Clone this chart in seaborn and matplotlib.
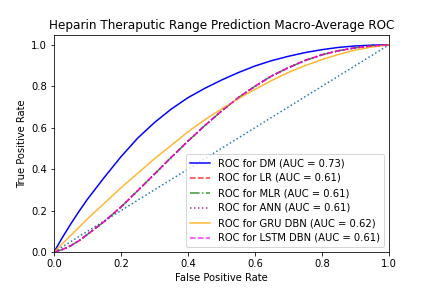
import matplotlib
matplotlib.use("Agg")
import matplotlib.pyplot as plt
import seaborn as sns
import pandas as pd

fpr = [0.0, 0.025, 0.05, 0.075, 0.1, 0.15, 0.2, 0.25, 0.3, 0.35, 0.4, 0.45, 0.5,
       0.55, 0.6, 0.65, 0.7, 0.75, 0.8, 0.85, 0.9, 0.95, 1.0]
tpr_dm = [0.0, 0.07, 0.135, 0.197, 0.255, 0.36, 0.46, 0.55, 0.625, 0.69, 0.745,
          0.79, 0.83, 0.866, 0.898, 0.924, 0.945, 0.963, 0.977, 0.988, 0.995, 0.999, 1.0]
tpr_lr = [0.0, 0.012, 0.03, 0.055, 0.085, 0.147, 0.217, 0.296, 0.376, 0.457, 0.535,
          0.61, 0.68, 0.745, 0.80, 0.85, 0.89, 0.925, 0.952, 0.972, 0.986, 0.995, 1.0]
tpr_mlr = [0.0, 0.012, 0.03, 0.055, 0.085, 0.147, 0.217, 0.296, 0.376, 0.457, 0.535,
           0.61, 0.68, 0.745, 0.80, 0.85, 0.89, 0.925, 0.952, 0.972, 0.986, 0.995, 1.0]
tpr_ann = [0.0, 0.012, 0.03, 0.055, 0.085, 0.147, 0.217, 0.296, 0.376, 0.457, 0.535,
           0.61, 0.68, 0.745, 0.80, 0.85, 0.89, 0.925, 0.952, 0.972, 0.986, 0.995, 1.0]
tpr_gru = [0.0, 0.04, 0.08, 0.12, 0.16, 0.235, 0.31, 0.38, 0.45, 0.515, 0.58,
           0.638, 0.69, 0.74, 0.785, 0.828, 0.867, 0.9, 0.929, 0.954, 0.975, 0.99, 1.0]
tpr_lstm = [0.0, 0.012, 0.03, 0.055, 0.085, 0.147, 0.217, 0.296, 0.376, 0.457, 0.535,
            0.61, 0.68, 0.745, 0.80, 0.85, 0.89, 0.925, 0.952, 0.972, 0.986, 0.995, 1.0]
diag = [0.0, 1.0]

models = ["DM", "LR", "MLR", "ANN", "GRU DBN", "LSTM DBN"]
aucs = [0.73, 0.61, 0.61, 0.61, 0.62, 0.61]
series = [tpr_dm, tpr_lr, tpr_mlr, tpr_ann, tpr_gru, tpr_lstm]
styles = [("blue", "-", 1.0), ("red", "--", 0.8), ("green", "-.", 0.8),
          ("purple", ":", 0.8), ("orange", "-", 0.8), ("magenta", "--", 0.8)]

fig, ax = plt.subplots(figsize=(6, 4), dpi=72)
fig.subplots_adjust(left=0.125, right=0.9, top=0.88, bottom=0.125)

sns.lineplot(x=diag, y=diag, ax=ax, color="tab:blue", linestyle=":", linewidth=1.5)
for m, a, s, (c, ls, al) in zip(models, aucs, series, styles):
    df = pd.DataFrame({"fpr": fpr, "tpr": s})
    sns.lineplot(data=df, x="fpr", y="tpr", ax=ax, color=c, linestyle=ls,
                 linewidth=1.5, alpha=al, label=f"ROC for {m} (AUC = {a:.2f})",
                 sort=False)

ax.set_xlim(0.0, 1.0)
ax.set_ylim(0.0, 1.05)
ax.set_xlabel("False Positive Rate")
ax.set_ylabel("True Positive Rate")
ax.set_title("Heparin Theraputic Range Prediction Macro-Average ROC")
ax.legend(loc="lower right", fontsize=10)
fig.savefig("out.png", dpi=72)
